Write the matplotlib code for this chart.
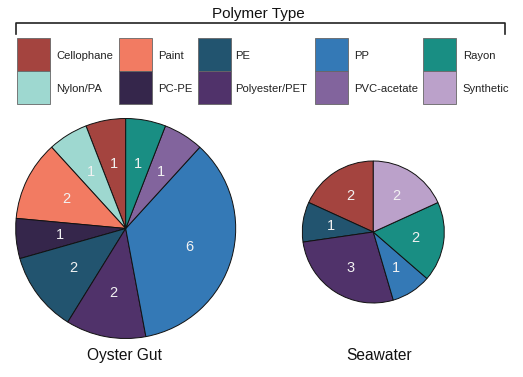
import matplotlib
matplotlib.use("Agg")
import matplotlib.pyplot as plt
from matplotlib.patches import Rectangle
from matplotlib.lines import Line2D

plt.rcParams['font.family'] = ['Liberation Sans', 'DejaVu Sans']

# ---- data ----
categories = ["Cellophane", "Nylon/PA", "Paint", "PC-PE", "PE",
              "Polyester/PET", "PP", "PVC-acetate", "Rayon", "Synthetic"]
colors = ["#A4443F", "#9ED8D0", "#F27B62", "#35264B", "#22546F",
          "#50326A", "#3479B6", "#82649D", "#198E83", "#BBA1CA"]

oyster_labels = ["Cellophane", "Nylon/PA", "Paint", "PC-PE", "PE",
                 "Polyester/PET", "PP", "PVC-acetate", "Rayon"]
oyster_counts = [1, 1, 2, 1, 2, 2, 6, 1, 1]

seawater_labels = ["Cellophane", "PE", "Polyester/PET", "PP", "Rayon", "Synthetic"]
seawater_counts = [2, 1, 3, 1, 2, 2]

legend_title = "Polymer Type"
panel_titles = ["Oyster Gut", "Seawater"]

W, H = 523, 377
fig = plt.figure(figsize=(W / 100, H / 100), dpi=100)
cmap = dict(zip(categories, colors))


def fx(x):
    return x / W


def fy(y):
    return 1 - y / H


def draw_pie(labels, counts, cx, cy, r):
    ax = fig.add_axes([fx(cx - r), fy(cy + r), 2 * r / W, 2 * r / H])
    total = sum(counts)
    ax.pie(counts, colors=[cmap[l] for l in labels], startangle=90,
           counterclock=True,
           autopct=lambda p: f"{round(p * total / 100):d}",
           pctdistance=0.6,
           wedgeprops=dict(edgecolor="#111111", linewidth=0.7),
           textprops=dict(color="#F2F2F2", fontsize=10.5))
    ax.set_xlim(-1, 1)
    ax.set_ylim(-1, 1)
    ax.set_aspect("equal")
    ax.axis("off")
    return ax


draw_pie(oyster_labels, oyster_counts, 125.7, 228.5, 110)
draw_pie(seawater_labels, seawater_counts, 373.3, 232.0, 71)

fig.text(fx(124.5), fy(360), panel_titles[0], ha="center", va="baseline",
         fontsize=11.2, color="#111111")
fig.text(fx(379), fy(360), panel_titles[1], ha="center", va="baseline",
         fontsize=11.2, color="#111111")

# ---- legend ----
fig.text(fx(258), fy(18.3), legend_title, ha="center", va="baseline",
         fontsize=11, color="#111111")
fig.add_artist(Line2D([fx(16), fx(16), fx(505), fx(505)],
                      [fy(34), fy(22.7), fy(22.7), fy(34)],
                      transform=fig.transFigure, color="#222222", lw=1.2))

sw_x = [17.3, 119, 198.3, 315, 422.7]
tx_x = [56, 158, 235, 354, 462.7]
row_top = [37.7, 71]
base_y = [59.3, 92.3]
sw = 33
for i, (cat, col) in enumerate(zip(categories, colors)):
    c, rr = i // 2, i % 2
    fig.add_artist(Rectangle((fx(sw_x[c]), fy(row_top[rr] + sw)), sw / W, sw / H,
                             transform=fig.transFigure, facecolor=col,
                             edgecolor="#666666", lw=0.6))
    fig.text(fx(tx_x[c]), fy(base_y[rr]), cat, ha="left", va="baseline",
             fontsize=8.1, color="#222222")

fig.savefig("out.png", dpi=100)
